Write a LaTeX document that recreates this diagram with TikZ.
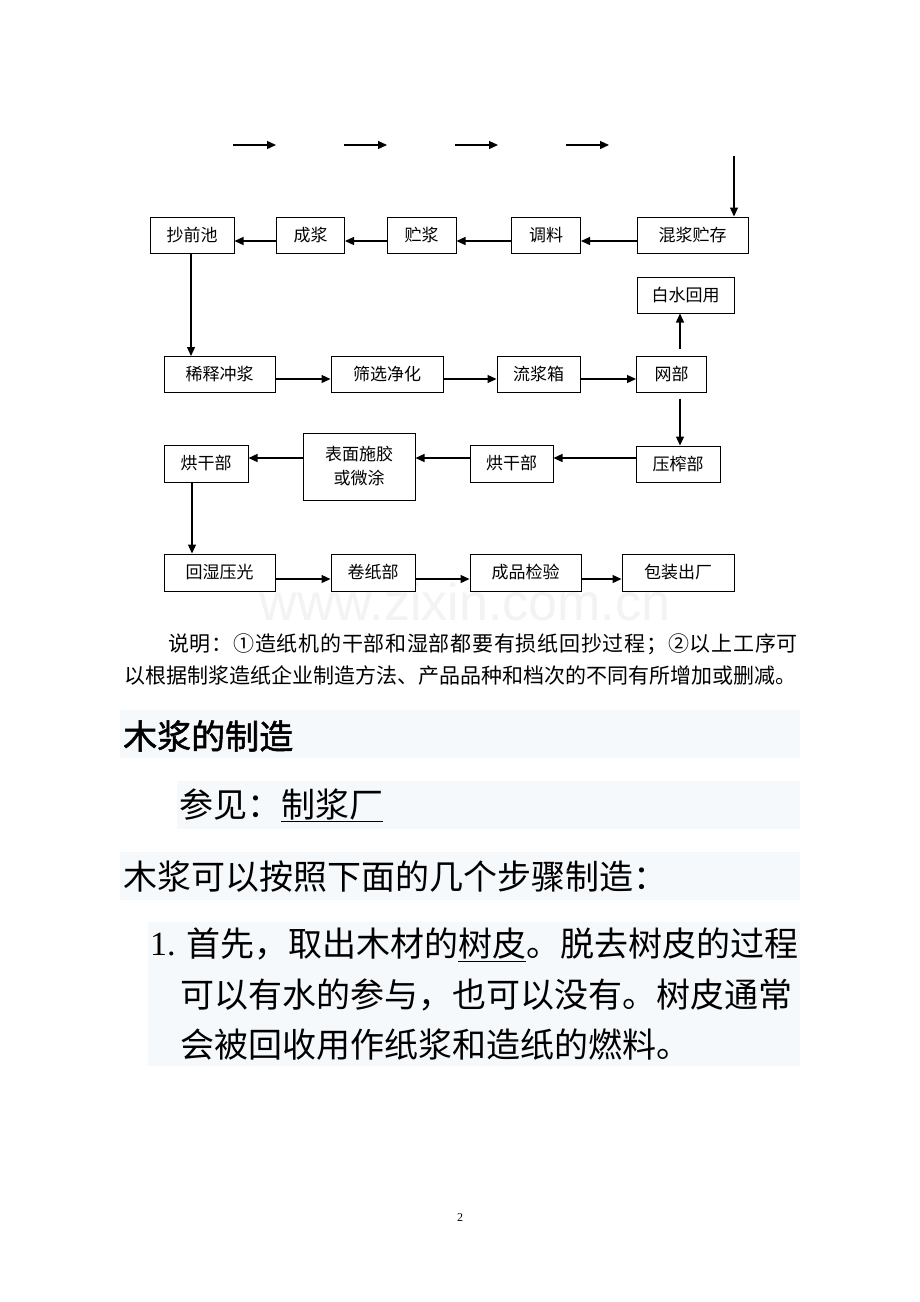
\documentclass[tikz,border=0pt]{standalone}
\usepackage{fontspec}
\newfontfamily\cjk{Noto Sans CJK SC}
\newfontfamily\cjkls[LetterSpace=3.5]{Noto Sans CJK SC}
\newfontfamily\cjkb[FakeBold=1.5]{Noto Sans CJK SC}
\newfontfamily\wmfont{Liberation Sans}
\newfontfamily\lserif{Liberation Serif}
\usetikzlibrary{arrows.meta}
\definecolor{band}{RGB}{246,249,252}
\definecolor{wmgray}{RGB}{243,243,243}
\tikzset{
  procbox/.style={draw=black, line width=1pt, inner sep=0pt, align=center,
    font=\cjk\fontsize{17}{22}\selectfont},
  arr/.style={line width=1.3pt, -{Triangle[length=9pt,width=8pt]}},
  bandbox/.style={fill=band, draw=none},
  bodytext/.style={anchor=west, inner sep=0pt}
}
\begin{document}
\begin{tikzpicture}[x=1pt,y=-1pt]
\useasboundingbox (0,0) rectangle (920,1302);
\fill[white] (0,0) rectangle (920,1302);

% top free arrows
\coordinate (t1a) at (233,145); \coordinate (t1b) at (276,145);
\coordinate (t2a) at (344,145); \coordinate (t2b) at (387,145);
\coordinate (t3a) at (455,145); \coordinate (t3b) at (498,145);
\coordinate (t4a) at (566,145); \coordinate (t4b) at (609,145);
\coordinate (tv) at (734,156);

% watermark (behind everything)
\node[text=wmgray, font=\wmfont\fontsize{52}{56}\selectfont, inner sep=0pt] (wm) at (465,602) {www.zixin.com.cn};

% row 1
\node[procbox, minimum width=84pt, minimum height=36pt] (cqc) at (192,235) {抄前池};
\node[procbox, minimum width=68pt, minimum height=36pt] (cj) at (310.5,235) {成浆};
\node[procbox, minimum width=69pt, minimum height=36pt] (zj) at (421.5,235) {贮浆};
\node[procbox, minimum width=69pt, minimum height=36pt] (tl) at (546,235) {调料};
\node[procbox, minimum width=111pt, minimum height=36pt] (hj) at (692.5,235) {混浆贮存};
\node[procbox, minimum width=97pt, minimum height=36pt] (bs) at (685.5,295) {白水回用};

% row 2
\node[procbox, minimum width=111pt, minimum height=36pt] (xs) at (219.5,374) {稀释冲浆};
\node[procbox, minimum width=112pt, minimum height=36pt] (sx) at (387,374) {筛选净化};
\node[procbox, minimum width=83pt, minimum height=36pt] (ljx) at (538.5,374) {流浆箱};
\node[procbox, minimum width=70pt, minimum height=36pt] (wb) at (671.5,374) {网部};

% row 3
\node[procbox, minimum width=84pt, minimum height=37pt] (hg1) at (206,463.5) {烘干部};
\node[procbox, minimum width=112pt, minimum height=67pt, font=\cjk\fontsize{17}{24}\selectfont] (bm) at (359,466.5) {表面施胶\\或微涂};
\node[procbox, minimum width=83pt, minimum height=37pt] (hg2) at (511.5,463.5) {烘干部};
\node[procbox, minimum width=84pt, minimum height=36pt] (yz) at (678,464) {压榨部};

% row 4
\node[procbox, fill=white, minimum width=111pt, minimum height=37pt] (hs) at (219.5,572.5) {回湿压光};
\node[procbox, fill=white, minimum width=84pt, minimum height=37pt] (jz) at (373,572.5) {卷纸部};
\node[procbox, fill=white, minimum width=111pt, minimum height=37pt] (cp) at (525.5,572.5) {成品检验};
\node[procbox, fill=white, minimum width=112pt, minimum height=37pt] (bz) at (678,572.5) {包装出厂};

% connectors
\draw[arr] (t1a) -- (t1b);
\draw[arr] (t2a) -- (t2b);
\draw[arr] (t3a) -- (t3b);
\draw[arr] (t4a) -- (t4b);
\draw[arr] (tv) -- (tv |- hj.north);

\draw[arr] (hj.west |- 0,241) -- (tl.east |- 0,241);
\draw[arr] (tl.west |- 0,241) -- (zj.east |- 0,241);
\draw[arr] (zj.west |- 0,241) -- (cj.east |- 0,241);
\draw[arr] (cj.west |- 0,241) -- (cqc.east |- 0,241);
\draw[arr] ([xshift=-1pt]cqc.south) -- (cqc.south -| 191,0) -- (191,356);

\draw[arr] (xs.east |- 0,379) -- (sx.west |- 0,379);
\draw[arr] (sx.east |- 0,379) -- (ljx.west |- 0,379);
\draw[arr] (ljx.east |- 0,379) -- (wb.west |- 0,379);
\draw[arr] ([xshift=8.5pt,yshift=7pt]wb.north) -- ([xshift=-5.5pt]bs.south);
\draw[arr] ([xshift=8.5pt,yshift=-6pt]wb.south) -- ([xshift=2pt]yz.north);

\draw[arr] (yz.west |- 0,458) -- (hg2.east |- 0,458);
\draw[arr] (hg2.west |- 0,458) -- (bm.east |- 0,458);
\draw[arr] (bm.west |- 0,458) -- (hg1.east |- 0,458);
\draw[arr] ([xshift=-14pt]hg1.south) -- ([xshift=-27.5pt]hs.north);

\draw[arr] (hs.east |- 0,579) -- (jz.west |- 0,579);
\draw[arr] (jz.east |- 0,579) -- (cp.west |- 0,579);
\draw[arr] (cp.east |- 0,579) -- (bz.west |- 0,579);

% note
\node[bodytext, font=\cjkls\fontsize{21}{24}\selectfont] (n1) at (168,644) {说明：①造纸机的干部和湿部都要有损纸回抄过程；②以上工序可};
\node[bodytext, font=\cjk\fontsize{21}{24}\selectfont] (n2) at (124,675) {以根据制浆造纸企业制造方法、产品品种和档次的不同有所增加或删减。};

% bands
\fill[band] (120,710) rectangle (800,758);
\fill[band] (177,781) rectangle (800,829);
\fill[band] (120,852) rectangle (800,900);
\fill[band] (148,922) rectangle (800,1066);

\node[bodytext, font=\cjkb\fontsize{34}{40}\selectfont] (h1) at (123,736) {木浆的制造};
\node[bodytext, font=\cjk\fontsize{34}{40}\selectfont] (h2) at (179,805) {参见：\underline{制浆厂}};
\node[bodytext, font=\cjk\fontsize{34}{40}\selectfont] (h3) at (123,877) {木浆可以按照下面的几个步骤制造：};
\node[bodytext, font=\lserif\fontsize{34}{40}\selectfont] (p0) at (150,945) {1.};
\node[bodytext, font=\cjk\fontsize{34}{40}\selectfont] (p1) at (186,945) {首先，取出木材的\underline{树皮}。脱去树皮的过程};
\node[bodytext, font=\cjk\fontsize{34}{40}\selectfont] (p2) at (180,995) {可以有水的参与，也可以没有。树皮通常};
\node[bodytext, font=\cjk\fontsize{34}{40}\selectfont] (p3) at (180,1045) {会被回收用作纸浆和造纸的燃料。};

\node[font=\lserif\fontsize{12}{14}\selectfont, inner sep=0pt] (pg) at (460,1218) {2};
\end{tikzpicture}
\end{document}
